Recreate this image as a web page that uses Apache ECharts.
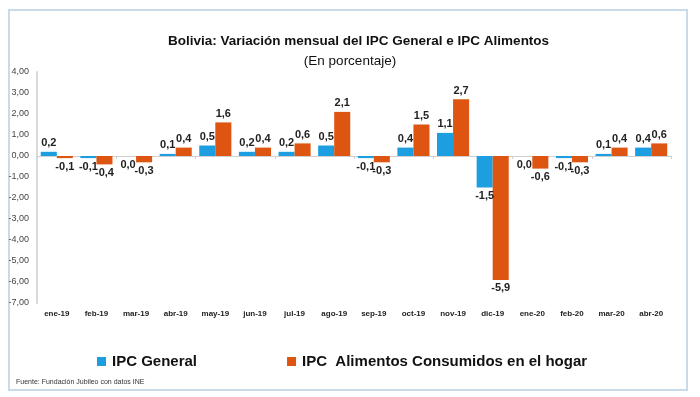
<!DOCTYPE html>
<html>
<head>
<meta charset="utf-8">
<script src="https://cdn.jsdelivr.net/npm/echarts@6/dist/echarts.min.js"></script>
<style>html,body{margin:0;padding:0;background:#fff}#c{width:700px;height:397px}</style>
</head>
<body>
<div id="c"></div>
<script>
var categories = ['ene-19','feb-19','mar-19','abr-19','may-19','jun-19','jul-19','ago-19','sep-19','oct-19','nov-19','dic-19','ene-20','feb-20','mar-20','abr-20'];
var ipcGeneral = [0.2,-0.1,0.0,0.1,0.5,0.2,0.2,0.5,-0.1,0.4,1.1,-1.5,0.0,-0.1,0.1,0.4];
var ipcAlimentos = [-0.1,-0.4,-0.3,0.4,1.6,0.4,0.6,2.1,-0.3,1.5,2.7,-5.9,-0.6,-0.3,0.4,0.6];

var FONT = "'Liberation Sans', Arial, sans-serif";
function fmt1(v){ return v.toFixed(1).replace('.', ',').replace('-0,0','0,0'); }
function items(arr){
  return arr.map(function(v){
    return { value: v, label: { position: v > 0 ? 'top' : 'bottom' } };
  });
}
var labelStyle = {
  show: true, fontFamily: FONT, fontWeight: 'bold', fontSize: 11, color: '#222', distance: 3,
  formatter: function(p){ return fmt1(p.value); }
};

var chart = echarts.init(document.getElementById('c'));
chart.setOption({
  backgroundColor: '#fff',
  animation: false,
  graphic: [{
    type: 'rect', shape: { x: 9, y: 10, width: 678, height: 380 }, z: -10,
    style: { fill: '#fff', stroke: '#c9dbe9', lineWidth: 2 }
  }, {
    type: 'text', left: 16, top: 379,
    style: { text: 'Fuente: Fundación Jubileo con datos INE', fontFamily: FONT, fontSize: 7, fill: '#333' }
  }],
  title: [{
    text: 'Bolivia: Variación mensual del IPC General e IPC Alimentos',
    left: 163, top: 29,
    textStyle: { fontFamily: FONT, fontWeight: 'bold', fontSize: 13.5, color: '#111' }
  }, {
    text: '(En porcentaje)',
    left: 'center', top: 49,
    textStyle: { fontFamily: FONT, fontWeight: 'normal', fontSize: 13.5, color: '#111' }
  }],
  legend: {
    left: 92, top: 349, itemWidth: 9, itemHeight: 9, itemGap: 90, icon: 'rect',
    textStyle: { fontFamily: FONT, fontWeight: 'bold', fontSize: 15, color: '#111', padding: [0,0,0,1] },
    data: ['IPC General', 'IPC  Alimentos Consumidos en el hogar']
  },
  grid: { left: 37, right: 29, top: 72, bottom: 94, containLabel: false },
  xAxis: [{
    type: 'category', data: categories, position: 'bottom',
    axisLine: { show: false, onZero: false }, axisTick: { show: false },
    axisLabel: { fontFamily: FONT, fontWeight: 'bold', fontSize: 8, color: '#222', margin: 7 }
  }, {
    type: 'category', data: categories, position: 'bottom',
    axisLine: { show: true, onZero: true, lineStyle: { color: '#d0d0d0', width: 1 } },
    axisTick: { show: true, length: 3, lineStyle: { color: '#d0d0d0' } },
    axisLabel: { show: false }
  }],
  yAxis: {
    type: 'value', min: -7, max: 4, interval: 1,
    splitLine: { show: false },
    axisLine: { show: true, lineStyle: { color: '#d9d9d9', width: 2 } },
    axisTick: { show: false },
    axisLabel: {
      fontFamily: FONT, fontSize: 9, color: '#444', margin: 8,
      formatter: function(v){ return v.toFixed(2).replace('.', ','); }
    }
  },
  series: [{
    name: 'IPC General', type: 'bar', xAxisIndex: 0, data: items(ipcGeneral),
    barGap: '0%', barCategoryGap: '19%',
    itemStyle: { color: '#1c9ee0' }, label: labelStyle
  }, {
    name: 'IPC  Alimentos Consumidos en el hogar', type: 'bar', xAxisIndex: 0, data: items(ipcAlimentos),
    barGap: '0%', barCategoryGap: '19%',
    itemStyle: { color: '#dd5510' }, label: labelStyle
  }]
});
</script>
</body>
</html>
